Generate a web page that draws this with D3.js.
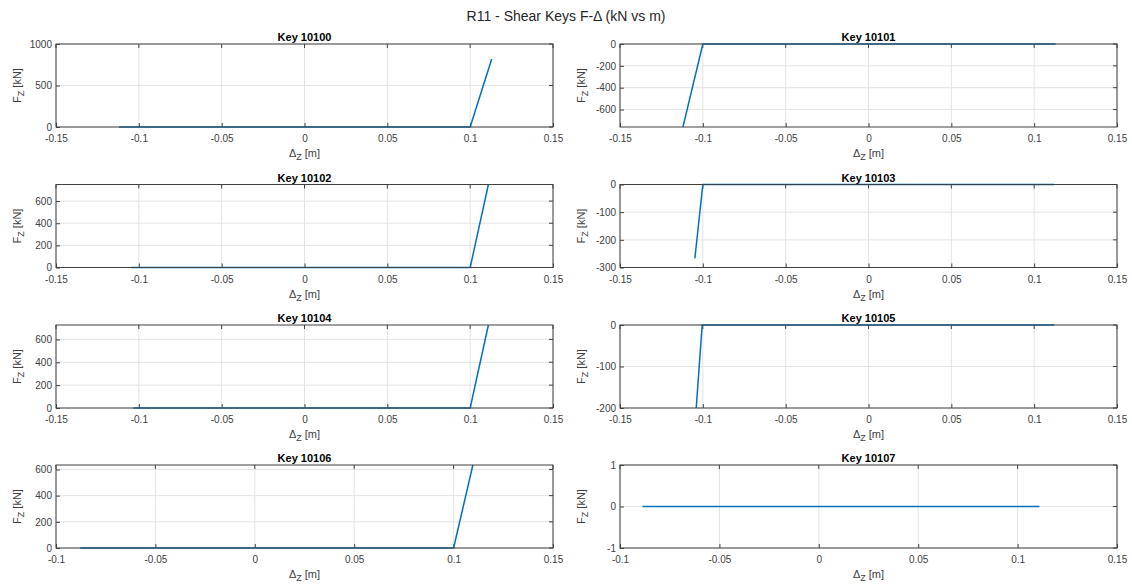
<!DOCTYPE html>
<html>
  <head>
    <meta charset="utf-8">
    <title>R11 - Shear Keys</title>
    <script src="https://d3js.org/d3.v7.min.js"></script>
    <style>
      body { margin: 0; background: #fff; }
      svg { font-family: "Liberation Sans", Arial, sans-serif; }
      .tick text { fill: #404040; font-size: 10px; }
      .tick line { stroke: #404040; }
      .grid line { stroke: #e3e3e3; stroke-width: 1; }
      .frame { fill: none; stroke: #404040; stroke-width: 1; }
      .label { fill: #404040; font-size: 11px; }
      .ptitle { fill: #000; font-size: 11px; font-weight: bold; }
    </style>
  </head>
  <body>
    <svg id="chart" width="1132" height="584"></svg>
    <script>
      // data
      const keys = ["Key 10100", "Key 10101", "Key 10102", "Key 10103",
                    "Key 10104", "Key 10105", "Key 10106", "Key 10107"];
      const dispSeries = [
        [-0.112, 0.1, 0.113],
        [-0.112, -0.1, 0.113],
        [-0.1045, 0.1, 0.111],
        [-0.1048, -0.1, 0.112],
        [-0.1033, 0.1, 0.111],
        [-0.104, -0.1004, 0.112],
        [-0.0878, 0.1, 0.1097],
        [-0.0887, 0.111]
      ];
      const forceSeries = [
        [0, 0, 820],
        [-760, 0, 0],
        [0, 0, 750],
        [-267, 0, 0],
        [0, 0, 726],
        [-200, 0, 0],
        [0, 0, 634],
        [0, 0]
      ];
      const xDomains = [
        [-0.15, 0.15], [-0.15, 0.15], [-0.15, 0.15], [-0.15, 0.15],
        [-0.15, 0.15], [-0.15, 0.15], [-0.1, 0.15], [-0.1, 0.15]
      ];
      const yDomains = [
        [0, 1000], [-760, 0], [0, 750], [-300, 0],
        [0, 726], [-200, 0], [0, 634], [-1, 1]
      ];
      const yTicks = [
        [0, 500, 1000], [-600, -400, -200, 0], [0, 200, 400, 600], [-300, -200, -100, 0],
        [0, 200, 400, 600], [-200, -100, 0], [0, 200, 400, 600], [-1, 0, 1]
      ];
      const xTicksWide = [-0.15, -0.1, -0.05, 0, 0.05, 0.1, 0.15];
      const xTicksNarrow = [-0.1, -0.05, 0, 0.05, 0.1, 0.15];

      const chart = d3.select("#chart");
      const colLeft = [56, 620];
      const plotW = 497;
      const plotH = 83;
      const rowTop = [44, 184.5, 325, 465];
      // MATLAB-style plain hyphen minus
      const fmt = function(d) { return d3.format("~g")(d).replace("\u2212", "-"); };

      chart.append("text")
        .attr("x", 566)
        .attr("y", 21)
        .attr("text-anchor", "middle")
        .style("font-size", "14px")
        .style("fill", "#262626")
        .text("R11 - Shear Keys F-\u0394 (kN vs m)");

      keys.forEach(function(k, i) {
        const left = colLeft[i % 2];
        const top = rowTop[Math.floor(i / 2)];
        const g = chart.append("g").attr("transform", "translate(" + left + "," + top + ")");

        const x = d3.scaleLinear().domain(xDomains[i]).range([0, plotW]);
        const y = d3.scaleLinear().domain(yDomains[i]).range([plotH, 0]);
        const xt = xDomains[i][0] === -0.15 ? xTicksWide : xTicksNarrow;

        // grid
        g.append("g").attr("class", "grid")
          .selectAll("line").data(xt).join("line")
            .attr("x1", d => x(d)).attr("x2", d => x(d))
            .attr("y1", 0).attr("y2", plotH);
        g.append("g").attr("class", "grid")
          .selectAll("line").data(yTicks[i]).join("line")
            .attr("x1", 0).attr("x2", plotW)
            .attr("y1", d => y(d)).attr("y2", d => y(d));

        // axes
        const xAxis = d3.axisBottom(x).tickValues(xt).tickSizeInner(-4).tickSizeOuter(0)
          .tickPadding(6).tickFormat(fmt);
        const yAxis = d3.axisLeft(y).tickValues(yTicks[i]).tickSizeInner(-4).tickSizeOuter(0)
          .tickPadding(4).tickFormat(fmt);
        const xg = g.append("g").attr("transform", "translate(0," + plotH + ")").call(xAxis);
        const yg = g.append("g").call(yAxis);
        [xg, yg].forEach(function(a) {
          a.select(".domain").remove();
          a.selectAll("text").style("font-family", "Liberation Sans, Arial, sans-serif");
        });
        xg.selectAll("text").attr("dy", "0.9em");
        // tick marks on top and right too
        g.append("g").selectAll("line").data(xt).join("line")
          .attr("x1", d => x(d)).attr("x2", d => x(d)).attr("y1", 0).attr("y2", 4)
          .attr("stroke", "#404040");
        g.append("g").selectAll("line").data(yTicks[i]).join("line")
          .attr("x1", plotW - 4).attr("x2", plotW).attr("y1", d => y(d)).attr("y2", d => y(d))
          .attr("stroke", "#404040");

        // series
        const pts = dispSeries[i].map((d, j) => [d, forceSeries[i][j]]);
        g.append("path")
          .datum(pts)
          .attr("fill", "none")
          .attr("stroke", "#0072BD")
          .attr("stroke-width", 1.5)
          .attr("d", d3.line().x(d => x(d[0])).y(d => y(d[1])));

        g.append("rect").attr("class", "frame")
          .attr("x", 0).attr("y", 0).attr("width", plotW).attr("height", plotH);

        // title
        g.append("text").attr("class", "ptitle")
          .attr("x", plotW / 2).attr("y", -3)
          .attr("text-anchor", "middle")
          .text(k);

        // x label
        const xl = g.append("text").attr("class", "label")
          .attr("x", plotW / 2).attr("y", plotH + 30)
          .attr("text-anchor", "middle");
        xl.append("tspan").text("\u0394");
        xl.append("tspan").attr("dy", 3).style("font-size", "9px").text("Z");
        xl.append("tspan").attr("dy", -3).text(" [m]");

        // y label
        const yl = g.append("text").attr("class", "label")
          .attr("transform", "translate(" + (i % 2 === 0 ? -35 : -35) + "," + (plotH / 2) + ") rotate(-90)")
          .attr("text-anchor", "middle");
        yl.append("tspan").text("F");
        yl.append("tspan").attr("dy", 3).style("font-size", "9px").text("Z");
        yl.append("tspan").attr("dy", -3).text(" [kN]");
      });
    </script>
  </body>
</html>
